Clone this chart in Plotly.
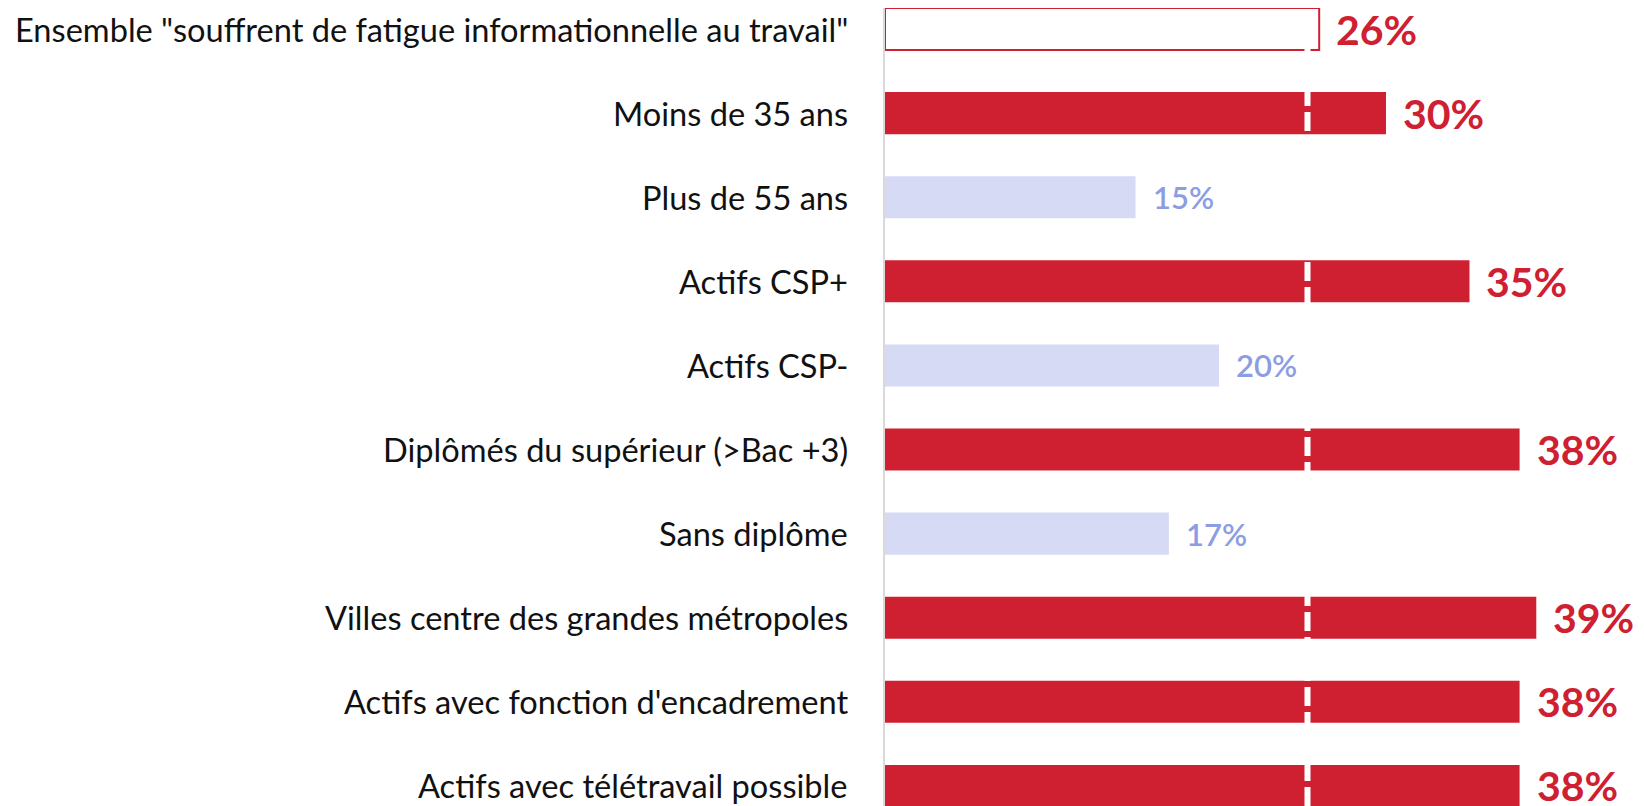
import plotly.graph_objects as go

categories = [
    'Ensemble "souffrent de fatigue informationnelle au travail"',
    "Moins de 35 ans",
    "Plus de 55 ans",
    "Actifs CSP+",
    "Actifs CSP-",
    "Diplômés du supérieur (>Bac +3)",
    "Sans diplôme",
    "Villes centre des grandes métropoles",
    "Actifs avec fonction d'encadrement",
    "Actifs avec télétravail possible",
]
values = [26, 30, 15, 35, 20, 38, 17, 39, 38, 38]
reference = 25.3  # overall average marker (dashed line)

RED = "#CF2031"
LIGHT = "#D6DAF5"
BLUE_TXT = "#8C9DE3"
FONT = "Lato"

fill = []
line_col = []
for i, v in enumerate(values):
    if i == 0:
        fill.append("white")
        line_col.append(RED)
    elif v > reference:
        fill.append(RED)
        line_col.append(RED)
    else:
        fill.append(LIGHT)
        line_col.append(LIGHT)

fig = go.Figure()
fig.add_trace(go.Bar(
    x=values, y=categories, orientation="h",
    marker=dict(color=fill, line=dict(color=line_col, width=[2] + [0] * (len(values) - 1))),
    hoverinfo="skip",
))

# dashed reference line
fig.add_shape(type="line", xref="x", yref="paper", x0=reference, x1=reference, y0=0, y1=1,
              line=dict(color="white", width=6, dash="19px,6px"), layer="above")

annotations = []
for i, (c, v) in enumerate(zip(categories, values)):
    annotations.append(dict(
        x=0, xref="paper", y=c, yref="y", text=c, showarrow=False,
        xanchor="right", yanchor="middle", xshift=-35,
        font=dict(family=FONT, size=32.6, color="#111111"),
    ))
    hi = (i == 0) or v > reference
    annotations.append(dict(
        x=v, xref="x", y=c, yref="y", text=f"{v}%", showarrow=False,
        xanchor="left", yanchor="middle", xshift=15,
        font=dict(family=FONT, size=41 if hi else 31, color=RED if hi else BLUE_TXT,
                  weight=700 if hi else 600),
    ))

fig.update_layout(
    width=1636, height=798,
    margin=dict(l=877, r=0, t=0, b=0),
    paper_bgcolor="white", plot_bgcolor="white",
    showlegend=False, bargap=0.5,
    annotations=annotations,
    xaxis=dict(range=[0, 45.45], showgrid=False, zeroline=False, showticklabels=False, fixedrange=True),
    yaxis=dict(categoryorder="array", categoryarray=categories, range=[9.239, -0.25],
               showticklabels=False, showgrid=False, zeroline=False,
               showline=True, linecolor="#D9D9D9", linewidth=2, fixedrange=True),
)

fig.write_html("out.html")
